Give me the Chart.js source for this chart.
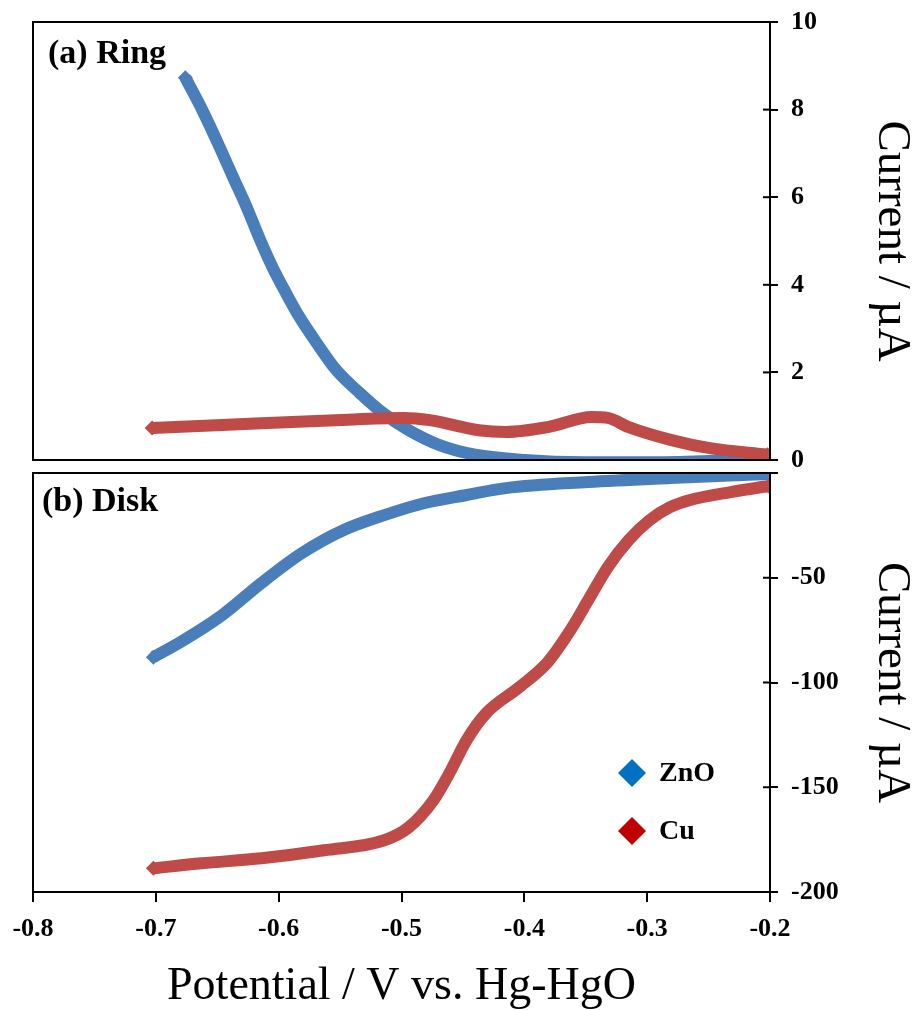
<!DOCTYPE html>
<html><head><meta charset="utf-8">
<script src="https://cdn.jsdelivr.net/npm/chart.js@4.4.1/dist/chart.umd.min.js"></script>
<style>
html,body{margin:0;padding:0;background:#fff;}
#wrap{position:relative;width:916px;height:1010px;overflow:hidden;background:#fff;}
canvas{position:absolute;left:0;}
#ring{top:0}
#disk{top:459px}
</style></head><body>
<div id="wrap"><canvas id="ring" width="916" height="480"></canvas><canvas id="disk" width="916" height="551"></canvas></div>
<script>
'use strict';
// (a) ring current / µA vs potential / V
const ringZnO_V=[-0.676,-0.662,-0.648,-0.637,-0.626,-0.615,-0.605,-0.594,-0.583,-0.569,-0.553,-0.534,-0.515,-0.494,-0.469,-0.44,-0.40,-0.35,-0.30,-0.25,-0.20];
const ringZnO_I=[8.73,7.98,7.14,6.45,5.77,5.02,4.40,3.81,3.26,2.67,2.05,1.53,1.07,0.68,0.34,0.12,0.0,-0.05,-0.05,-0.02,0.08];
const ringCu_V=[-0.703,-0.646,-0.554,-0.498,-0.477,-0.437,-0.415,-0.381,-0.345,-0.332,-0.315,-0.281,-0.249,-0.202];
const ringCu_I=[0.73,0.80,0.91,0.96,0.91,0.68,0.64,0.75,0.98,0.96,0.75,0.46,0.27,0.12];
// (b) disk current / µA
const diskZnO_V=[-0.702,-0.680,-0.646,-0.614,-0.581,-0.547,-0.514,-0.481,-0.447,-0.415,-0.348,-0.281,-0.201];
const diskZnO_I=[-87.9,-80.7,-67.8,-52.5,-38.2,-27.2,-20.1,-14.3,-10.5,-7.2,-4.3,-2.4,-0.5];
const diskCu_V=[-0.702,-0.663,-0.614,-0.563,-0.514,-0.494,-0.474,-0.461,-0.447,-0.431,-0.404,-0.381,-0.364,-0.348,-0.332,-0.315,-0.298,-0.281,-0.265,-0.232,-0.201];
const diskCu_I=[-188.7,-186.3,-183.9,-180.1,-175.3,-169.1,-156.2,-143.3,-127.5,-114.6,-102.2,-90.3,-76.4,-60.7,-44.9,-32.0,-22.5,-16.2,-12.9,-9.1,-6.2];
const legendLabels=['ZnO','Cu'];

const SERIF='"Liberation Serif", "Times New Roman", serif';
const BLUE='#4a7ebb', RED='#be4b48', LBLUE='#0070c0', LRED='#c00000';

const pts=(xs,ys)=>xs.map((x,i)=>({x,y:ys[i]}));
function series(label,xs,ys,col,order){
  return {label,data:pts(xs,ys),borderColor:col,backgroundColor:col,borderWidth:12,order,
    cubicInterpolationMode:'monotone',pointStyle:'rectRot',pointBorderWidth:0,pointBackgroundColor:col,
    pointRadius:c=>(c.dataIndex===0||c.dataIndex===xs.length-1)?7.5:0};
}

// box round the plot, inner halves of the y ticks, panel label, legend
const frame={id:'frame',afterDraw(c,_,o){
  const ctx=c.ctx, a=c.chartArea, y=c.scales.y;
  ctx.save(); ctx.strokeStyle='#000'; ctx.lineWidth=2;
  ctx.strokeRect(a.left,a.top,a.right-a.left,a.bottom-a.top);
  y.ticks.forEach(t=>{const p=y.getPixelForValue(t.value); ctx.beginPath(); ctx.moveTo(a.right-7,p); ctx.lineTo(a.right,p); ctx.stroke();});
  ctx.fillStyle='#000'; ctx.textBaseline='alphabetic'; ctx.font='bold 34px '+SERIF;
  ctx.fillText(o.text,a.left+o.dx,a.top+o.dy);
  if(o.legend){
    o.legend.forEach((it,i)=>{
      const cx=632, cy=314+i*58, r=14;
      ctx.fillStyle=it.color; ctx.beginPath();
      ctx.moveTo(cx,cy-r); ctx.lineTo(cx+r,cy); ctx.lineTo(cx,cy+r); ctx.lineTo(cx-r,cy); ctx.closePath(); ctx.fill();
      ctx.fillStyle='#000'; ctx.font='bold 28px '+SERIF; ctx.textBaseline='middle';
      ctx.fillText(it.label,659,cy+1);
    });
  }
  ctx.restore();
}};

// tiny lineHeight keeps the label overflow from pushing the plot area in
const yTickFont={family:SERIF,weight:'bold',size:26,lineHeight:0.01};
const xTickFont={family:SERIF,weight:'bold',size:26};
function yAxis(min,max,step,hideZero){
  return {position:'right',min,max,
    ticks:{stepSize:step,color:'#000',font:yTickFont,padding:13,callback:v=>(hideZero&&v===0)?'':v},
    grid:{drawOnChartArea:false,tickLength:8,color:'#000',lineWidth:2},
    border:{color:'#000',width:2},
    title:{display:true,text:'Current / µA',color:'#000',font:{family:SERIF,size:47,lineHeight:1},padding:{top:1,bottom:0}},
    afterFit(s){s.width=146;}};
}

new Chart(document.getElementById('ring'),{type:'line',
  data:{datasets:[series('ZnO',ringZnO_V,ringZnO_I,BLUE,1),series('Cu',ringCu_V,ringCu_I,RED,0)]},
  options:{responsive:false,animation:false,devicePixelRatio:1,
    layout:{padding:{left:33,top:22,right:0,bottom:20}},
    plugins:{legend:{display:false},tooltip:{enabled:false},frame:{text:'(a) Ring',dx:15,dy:41}},
    scales:{x:{type:'linear',min:-0.8,max:-0.2,display:false},y:yAxis(0,10,2,false)}},
  plugins:[frame]});

new Chart(document.getElementById('disk'),{type:'line',
  data:{datasets:[series('ZnO',diskZnO_V,diskZnO_I,BLUE,1),series('Cu',diskCu_V,diskCu_I,RED,0)]},
  options:{responsive:false,animation:false,devicePixelRatio:1,
    layout:{padding:{left:33,top:14,right:0,bottom:0}},
    plugins:{legend:{display:false},tooltip:{enabled:false},
      frame:{text:'(b) Disk',dx:9,dy:38,legend:[{label:legendLabels[0],color:LBLUE},{label:legendLabels[1],color:LRED}]}},
    scales:{
      x:{type:'linear',min:-0.8,max:-0.2,
        ticks:{stepSize:0.1,color:'#000',font:xTickFont,padding:12,maxRotation:0,autoSkip:false,callback:v=>v.toFixed(1)},
        grid:{drawOnChartArea:false,tickLength:10,color:'#000',lineWidth:2},
        border:{color:'#000',width:2},
        title:{display:true,text:'Potential / V vs. Hg-HgO',color:'#000',font:{family:SERIF,size:46,lineHeight:1},padding:{top:0,bottom:0}},
        afterFit(s){s.height=118;}},
      y:yAxis(-200,0,50,true)}},
  plugins:[frame]});
</script>
</body></html>
